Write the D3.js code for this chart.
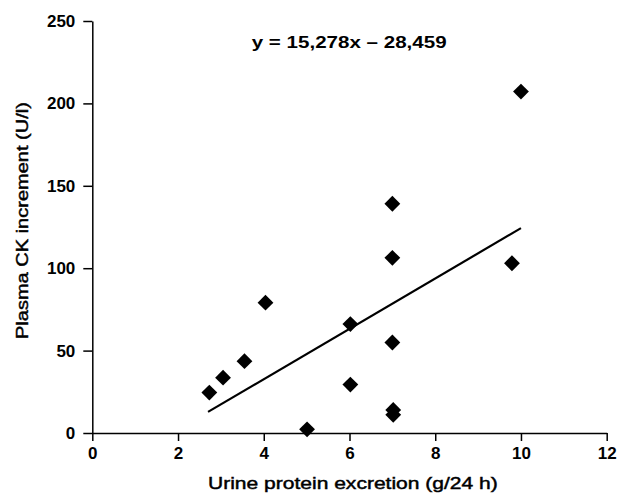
<html lang="en">
<head>
    <meta charset="UTF-8">
    <title>Plasma CK vs urine protein</title>
    <script src="https://d3js.org/d3.v7.min.js"></script>
    <style>
        body { margin: 0; background: #fff; }
        text { font-family: "Liberation Sans", Arial, Helvetica, sans-serif; fill: #000; }
        .tick text { font-size: 17px; font-weight: bold; }
        .domain, .tick line { stroke: #000; stroke-width: 1.5; }
    </style>
</head>
<body>
    <svg width="620" height="495"></svg>
    <script>
        // values
        var protein = [2.73, 3.05, 3.55, 4.04, 5.01, 6.02, 6.02, 7.0, 7.0, 7.0, 7.02, 7.02, 9.79, 10.0];
        var ckIncrement = [24.5, 33.6, 43.6, 79.1, 2.2, 66.1, 29.4, 139.1, 106.3, 54.9, 14, 11, 103, 207.2];
        var xTicks = [0, 2, 4, 6, 8, 10, 12];
        var yTicks = [0, 50, 100, 150, 200, 250];
        var fitSlope = [15.278];
        var fitIntercept = [-28.459];
        var fitRange = [2.7, 10];
        var equationLabel = "y = 15,278x \u2013 28,459";

        var svg = d3.select("svg"),
            margin = { left: 92.3, top: 21, right: 13.3, bottom: 62 },
            width = svg.attr("width") - margin.left - margin.right,
            height = svg.attr("height") - margin.top - margin.bottom;

        var xScale = d3.scaleLinear().domain([0, 12]).range([0, width]),
            yScale = d3.scaleLinear().domain([0, 250]).range([height, 0]);

        var g = svg.append("g")
            .attr("transform", "translate(" + margin.left + "," + margin.top + ")");

        g.append("g")
            .attr("transform", "translate(0," + height + ")")
            .call(d3.axisBottom(xScale).tickValues(xTicks).tickSize(8).tickPadding(6).tickSizeOuter(0));

        g.append("g")
            .call(d3.axisLeft(yScale).tickValues(yTicks).tickSize(9).tickPadding(8).tickSizeOuter(0));

        g.selectAll(".tick text").attr("font-size", null).attr("font-family", null);

        // fitted line
        var fit = fitRange.map(function (x) { return { x: x, y: fitSlope[0] * x + fitIntercept[0] }; });
        g.append("path")
            .datum(fit)
            .attr("fill", "none")
            .attr("stroke", "#000")
            .attr("stroke-width", 2.2)
            .attr("d", d3.line().x(function (d) { return xScale(d.x); }).y(function (d) { return yScale(d.y); }));

        var points = protein.map(function (x, i) { return { x: x, y: ckIncrement[i] }; });
        g.selectAll(".pt")
            .data(points)
            .enter().append("path")
            .attr("class", "pt")
            .attr("d", d3.symbol().type(d3.symbolSquare).size(125))
            .attr("fill", "#000")
            .attr("transform", function (d) {
                return "translate(" + xScale(d.x) + "," + yScale(d.y) + ") rotate(45)";
            });

        // the scan has wide lettering, so stretch each label to its measured width
        function stretched(x, y, rot, target, txt, bold) {
            var t = svg.append("text")
                .attr("font-size", 17)
                .attr("font-weight", bold ? "bold" : "normal")
                .text(txt);
            if (!bold) t.style("stroke", "#000").style("stroke-width", 0.45);
            var k = target / t.node().getComputedTextLength();
            t.attr("transform", "translate(" + x + "," + y + ") rotate(" + rot + ") scale(" + k + ",1)");
            return t;
        }

        stretched(251.7, 47.5, 0, 195, equationLabel, true);
        stretched(208, 488.5, 0, 290, "Urine protein excretion (g/24 h)", false);
        stretched(27.5, 339, -90, 237, "Plasma CK increment (U/l)", false);
    </script>
</body>
</html>
